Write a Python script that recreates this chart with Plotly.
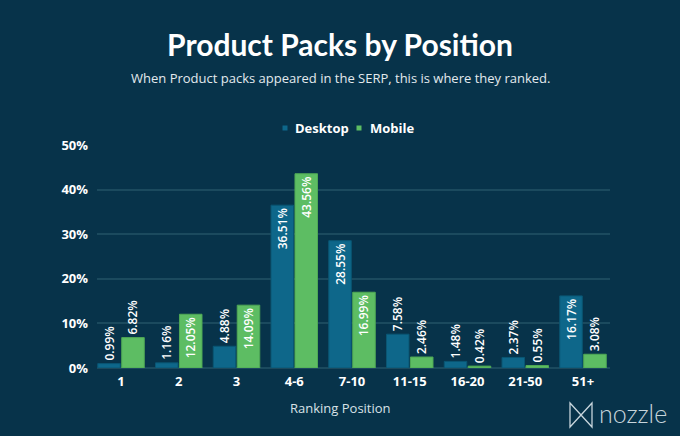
import plotly.graph_objects as go

categories = ["1", "2", "3", "4-6", "7-10", "11-15", "16-20", "21-50", "51+"]
desktop = [0.99, 1.16, 4.88, 36.51, 28.55, 7.58, 1.48, 2.37, 16.17]
mobile = [6.82, 12.05, 14.09, 43.56, 16.99, 2.46, 0.42, 0.55, 3.08]
y_ticks = [0, 10, 20, 30, 40, 50]
series_names = ["Desktop", "Mobile"]

BG = "#07334A"
DESK = "#0E678A"
MOB = "#5DBD63"
FONT = "Open Sans"

L, R, T, B = 97, 70, 145, 68
W, H = 680, 436
pw, ph = W - L - R, H - T - B

def px(x):
    return (x - L) / pw

def py(y):
    return (H - B - y) / ph

def pos(vals):
    return ["inside" if v >= 10 else "outside" for v in vals]

fig = go.Figure()
for name, vals, col, line in [(series_names[0], desktop, DESK, "#0A5673"),
                              (series_names[1], mobile, MOB, "#4FA855")]:
    fig.add_trace(go.Bar(
        name=name, x=categories, y=vals,
        marker=dict(color=col, line=dict(color=line, width=1)),
        text=[f"{v:.2f}%" for v in vals],
        textposition=pos(vals),
        insidetextanchor="end",
        textangle=-90,
        textfont=dict(color="white", size=12, family=FONT, weight=600),
        cliponaxis=False,
        showlegend=False,
    ))

fig.update_layout(
    width=W, height=H,
    paper_bgcolor=BG, plot_bgcolor=BG,
    margin=dict(l=L, r=R, t=T, b=B, autoexpand=False),
    barmode="group", bargap=0.17, bargroupgap=0.06,
    font=dict(family=FONT, color="white"),
    title=dict(text="<b>Product Packs by Position</b>", x=0.5, xanchor="center",
               y=1 - 45 / H, yanchor="middle", font=dict(size=30, color="white", family="Lato")),
    showlegend=False,
    uniformtext=dict(minsize=12, mode="show"),
)
fig.update_xaxes(showgrid=False, showline=False, zeroline=False, range=[-0.4156, 8.4675],
                 tickfont=dict(size=13, color="white", family=FONT, weight=700), ticks="",
                 ticklabelstandoff=4)
fig.update_yaxes(range=[0, 50], tickvals=y_ticks, ticktext=[f"{v}%" for v in y_ticks],
                 showgrid=True, gridcolor="#1B4A5E", gridwidth=1.5, zeroline=True,
                 zerolinecolor="#1B4A5E", zerolinewidth=1.5,
                 tickfont=dict(size=13, color="white", family=FONT, weight=700), ticks="",
                 ticklabelstandoff=8)

# custom legend
for (sx, tx, name, col) in [(285, 293, series_names[0], DESK), (359, 368, series_names[1], MOB)]:
    fig.add_shape(type="rect", xref="paper", yref="paper",
                  x0=px(sx - 2.5), x1=px(sx + 2.5), y0=py(125.5), y1=py(130.5),
                  fillcolor=col, line=dict(width=0))
    fig.add_annotation(text=name, xref="paper", yref="paper", x=px(tx), y=py(128),
                       showarrow=False, xanchor="left", yanchor="middle",
                       font=dict(size=13, color="white", family=FONT, weight=700))

fig.add_annotation(text="When Product packs appeared in the SERP, this is where they ranked.",
                   xref="paper", yref="paper", x=px(340), y=py(78), showarrow=False,
                   font=dict(size=13, color="#E3EAEE", family=FONT), xanchor="center", yanchor="middle")
fig.add_annotation(text="Ranking Position", xref="paper", yref="paper", x=px(340), y=py(408),
                   showarrow=False, font=dict(size=13, color="#D8E2E7", family=FONT),
                   xanchor="center", yanchor="middle")
fig.add_annotation(text="nozzle", xref="paper", yref="paper", x=px(597), y=py(413),
                   showarrow=False, font=dict(size=25, color="#C7D5DC", family="Lato", weight=300),
                   xanchor="left", yanchor="middle")
x0, x1, y0, y1 = px(570), px(592), py(403), py(427)
fig.add_shape(type="path", xref="paper", yref="paper",
              path=f"M {x0} {y0} L {x1} {y1} L {x1} {y0} L {x0} {y1} Z",
              line=dict(color="#C7D5DC", width=1.3))

fig.write_html("out.html", config={"displayModeBar": False},
               post_script="document.body.style.margin='0';")
